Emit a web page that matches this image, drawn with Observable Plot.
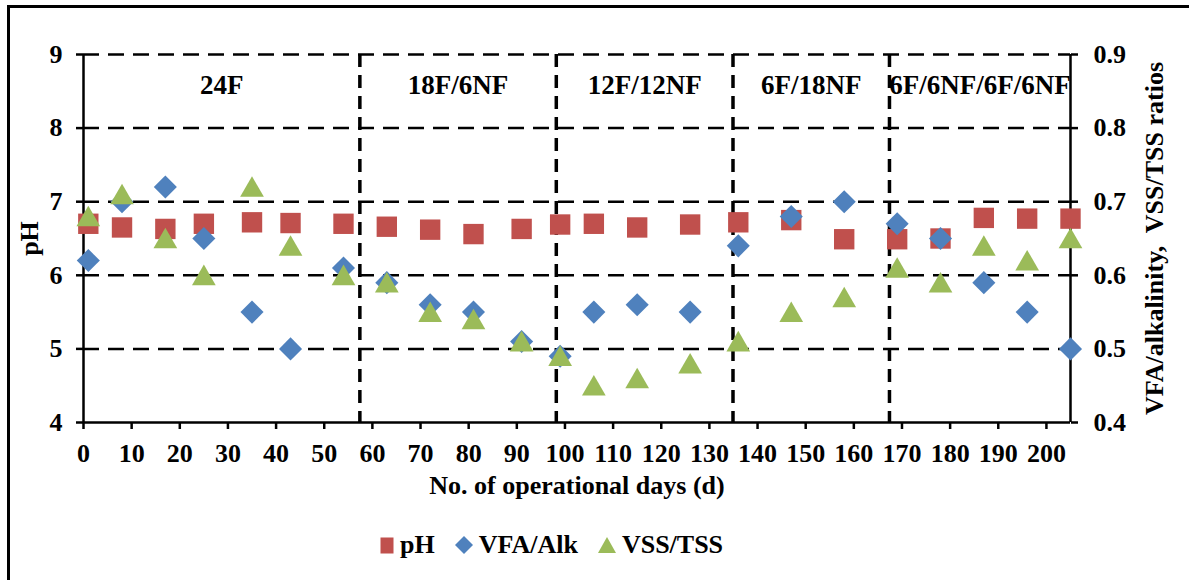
<!DOCTYPE html>
<html><head><meta charset="utf-8">
<script src="https://cdn.jsdelivr.net/npm/d3@7"></script>
<script src="https://cdn.jsdelivr.net/npm/@observablehq/plot@0.6"></script>
<style>
html,body{margin:0;padding:0;background:#fff;overflow:hidden;}
#wrap{position:relative;width:1189px;height:580px;overflow:hidden;font-family:"Liberation Serif","Times New Roman",serif;background:#fff;}
#frame{position:absolute;left:7px;top:5px;width:1300px;height:700px;border:3.5px solid #000;box-sizing:border-box;}
#chart{position:absolute;left:0;top:0;}
#legend{position:absolute;top:531px;left:380px;display:flex;align-items:center;font-weight:bold;font-size:26px;line-height:28px;color:#000;}
#legend .item{display:flex;align-items:center;margin-right:20px;}
#legend svg{margin-right:6px;}
</style></head>
<body><div id="wrap"><div id="frame"></div><div id="chart"></div><div id="legend"></div></div>
<script>
// ---- data ----
const days    = [1, 8, 17, 25, 35, 43, 54, 63, 72, 81, 91, 99, 106, 115, 126, 136, 147, 158, 169, 178, 187, 196, 205];
const pHValues = [6.70, 6.65, 6.63, 6.70, 6.72, 6.71, 6.70, 6.66, 6.62, 6.56, 6.63, 6.69, 6.70, 6.65, 6.69, 6.72, 6.75, 6.49, 6.49, 6.50, 6.78, 6.77, 6.77];
const vfaAlk  = [0.62, 0.70, 0.72, 0.65, 0.55, 0.50, 0.61, 0.59, 0.56, 0.55, 0.51, 0.49, 0.55, 0.56, 0.55, 0.64, 0.68, 0.70, 0.67, 0.65, 0.59, 0.55, 0.50];
const vssTss  = [0.68, 0.71, 0.65, 0.60, 0.72, 0.64, 0.60, 0.59, 0.55, 0.54, 0.51, 0.49, 0.45, 0.46, 0.48, 0.51, 0.55, 0.57, 0.61, 0.59, 0.64, 0.62, 0.65];
const phaseBounds = [0, 57.4, 98.2, 134.9, 167.4, 205];
const phaseLabels = ["24F", "18F/6NF", "12F/12NF", "6F/18NF", "6F/6NF/6F/6NF"];
const xTicks = [0, 10, 20, 30, 40, 50, 60, 70, 80, 90, 100, 110, 120, 130, 140, 150, 160, 170, 180, 190, 200];
const pHTicks = [4, 5, 6, 7, 8, 9];
const ratioTicks = [0.4, 0.5, 0.6, 0.7, 0.8, 0.9];
const seriesNames = ["pH", "VFA/Alk", "VSS/TSS"];
const colors = ["#C0504D", "#4F81BD", "#9BBB59"];

// ratio (right axis) -> pH (left axis) position
const toY = r => 4 + (r - 0.4) * 10;
const rows = days.map((d, i) => ({day: d, pH: pHValues[i], vfa: vfaAlk[i], vss: vssTss[i]}));
const phases = phaseLabels.map((l, i) => ({label: l, mid: (phaseBounds[i] + phaseBounds[i + 1]) / 2}));

const chart = Plot.plot({
  width: 1189, height: 580,
  marginLeft: 83, marginRight: 119, marginTop: 54, marginBottom: 158,
  x: {domain: [0, 205]},
  y: {domain: [4, 9]},
  style: {fontFamily: "'Liberation Serif', 'Times New Roman', serif", fontSize: "26px", fontWeight: "bold", color: "#000", background: "transparent", overflow: "visible"},
  marks: [
    Plot.ruleY(pHTicks.slice(1), {stroke: "#000", strokeWidth: 2.5, strokeDasharray: "16,9"}),
    Plot.ruleX(phaseBounds.slice(1, -1), {stroke: "#000", strokeWidth: 3.5, strokeDasharray: "13,8"}),
    Plot.ruleX([0, 205], {stroke: "#000", strokeWidth: 2.5}),
    Plot.ruleY([4], {stroke: "#000", strokeWidth: 2.5}),
    Plot.axisX({ticks: xTicks, tickSize: 7, tickPadding: 14, strokeWidth: 2.5, tickFormat: d => String(d),
      label: "No. of operational days (d)", labelAnchor: "center", labelArrow: "none", labelOffset: 71}),
    Plot.axisY({ticks: pHTicks, anchor: "left", tickSize: 7, tickPadding: 14, strokeWidth: 2.5, tickFormat: d => String(d),
      label: "pH", labelAnchor: "center", labelArrow: "none", labelOffset: 64}),
    Plot.axisY({ticks: ratioTicks.map(toY), anchor: "right", tickSize: 7, tickPadding: 16, strokeWidth: 2.5,
      tickFormat: d => ratioTicks[pHTicks.indexOf(Math.round(d))].toFixed(1),
      label: "VFA/alkalinity,\u00a0 VSS/TSS ratios", labelAnchor: "center", labelArrow: "none", labelOffset: 92}),
    Plot.text(phases, {x: "mid", y: 8.58, text: "label", fontSize: 27, fontWeight: "bold", fill: "#000"}),
    Plot.dot(rows, {x: "day", y: "pH", symbol: "square", r: 11.5, fill: colors[0], stroke: "none"}),
    Plot.dot(rows, {x: "day", y: d => toY(d.vfa), symbol: "diamond2", r: 10.4, fill: colors[1], stroke: "none"}),
    Plot.dot(rows, {x: "day", y: d => toY(d.vss), symbol: "triangle", r: 8.8, dy: 3, fill: colors[2], stroke: "none"})
  ]
});
document.getElementById("chart").appendChild(chart);

// legend
const shapes = [
  '<svg width="14" height="17"><rect x="0.5" y="0.5" width="13" height="16" fill="' + colors[0] + '"/></svg>',
  '<svg width="18" height="18"><path d="M9,0L18,9L9,18L0,9Z" fill="' + colors[1] + '"/></svg>',
  '<svg width="18" height="16"><path d="M9,0L18,16L0,16Z" fill="' + colors[2] + '"/></svg>'
];
const legend = document.getElementById("legend");
seriesNames.forEach((n, i) => {
  const it = document.createElement("div");
  it.className = "item";
  it.innerHTML = shapes[i] + "<span>" + n + "</span>";
  legend.appendChild(it);
});
</script>
</body></html>
